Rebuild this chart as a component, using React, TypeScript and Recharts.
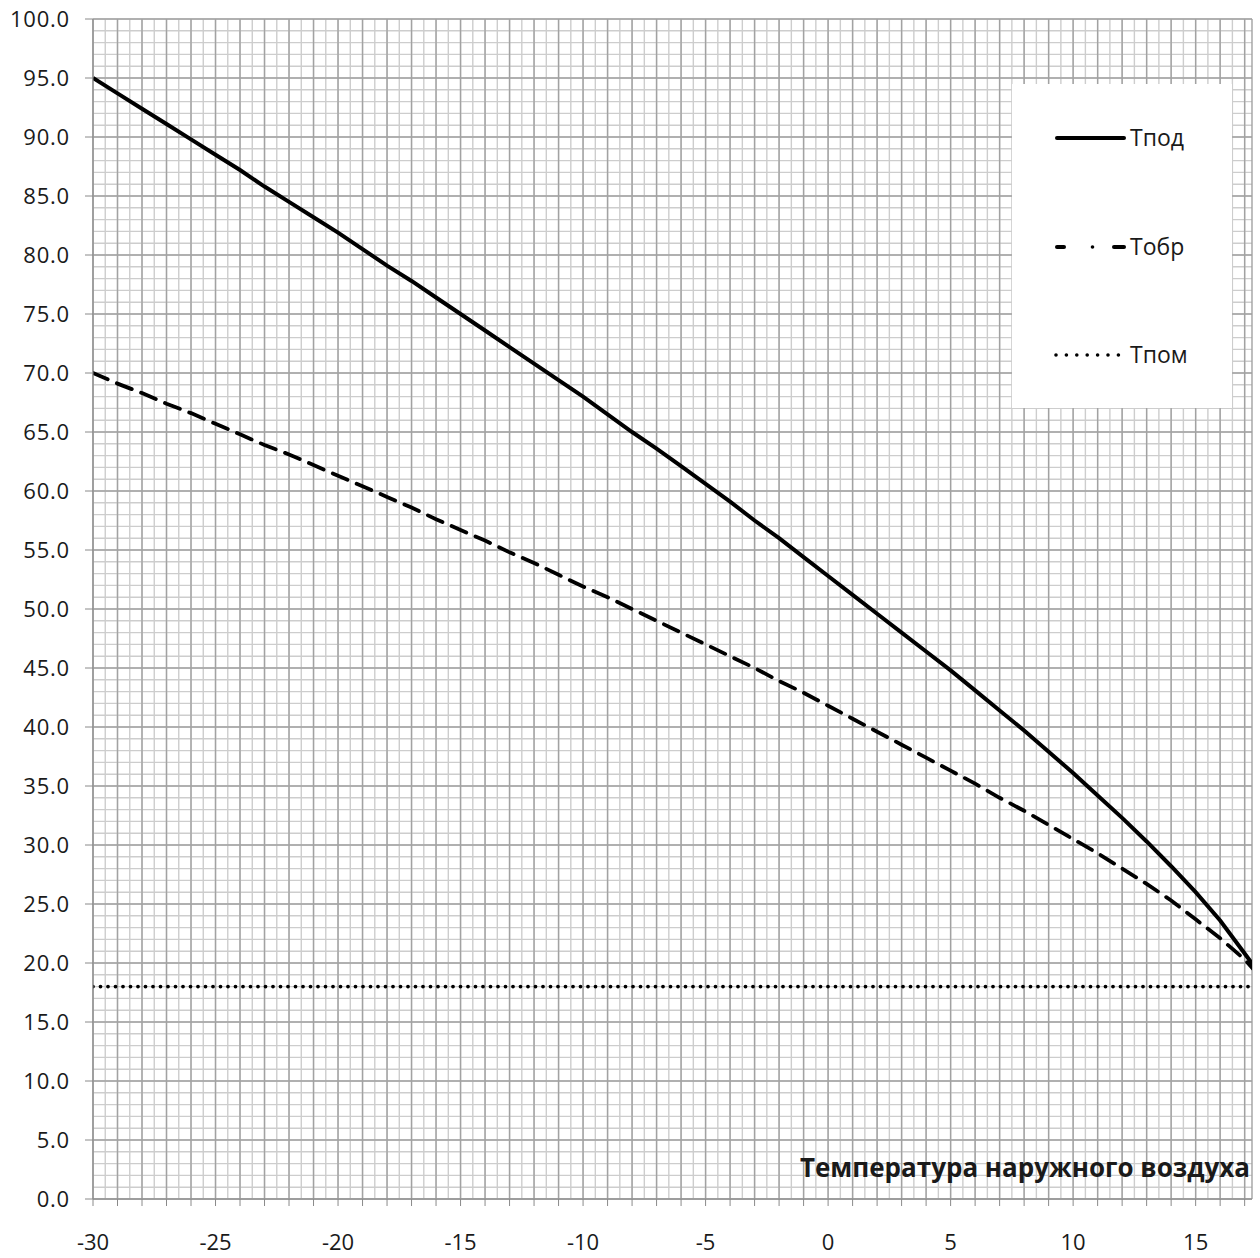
import { CartesianGrid, Line, LineChart, XAxis, YAxis } from 'recharts';

// Температурный график: подача / обратка / помещение по температуре наружного воздуха

const outdoorTemps = [
  -30, -29, -28, -27, -26, -25, -24, -23, -22, -21, -20, -19, -18, -17, -16, -15, -14, -13, -12, -11,
  -10, -9, -8, -7, -6, -5, -4, -3, -2, -1, 0, 1, 2, 3, 4, 5, 6, 7, 8, 9, 10, 11, 12, 13, 14, 15, 16,
  17, 18,
];

const tpod = [
  95.0, 93.7, 92.4, 91.1, 89.8, 88.5, 87.2, 85.8, 84.5, 83.2, 81.9, 80.5, 79.1, 77.8, 76.4, 75.0, 73.6,
  72.2, 70.8, 69.4, 68.0, 66.5, 65.0, 63.6, 62.1, 60.6, 59.1, 57.5, 56.0, 54.4, 52.8, 51.2, 49.6, 48.0,
  46.4, 44.8, 43.1, 41.4, 39.7, 37.9, 36.1, 34.2, 32.3, 30.3, 28.2, 26.0, 23.6, 20.8, 18.0,
];

const tobr = [
  70.0, 69.1, 68.3, 67.4, 66.6, 65.7, 64.8, 63.9, 63.1, 62.2, 61.3, 60.4, 59.5, 58.6, 57.6, 56.7, 55.8,
  54.8, 53.9, 52.9, 51.9, 51.0, 50.0, 49.0, 48.0, 47.0, 46.0, 45.0, 43.9, 42.9, 41.8, 40.7, 39.6, 38.5,
  37.4, 36.3, 35.2, 34.0, 32.9, 31.7, 30.5, 29.3, 28.0, 26.7, 25.3, 23.7, 22.1, 20.3, 18.0,
];

const tpom = outdoorTemps.map(() => 18.0);

const seriesNames = ['Тпод', 'Тобр', 'Тпом'];

const xDomain: [number, number] = [-30, 17.3];
const xMajorTicks = Array.from({ length: 48 }, (_, i) => -30 + i);
const xMinorTicks = Array.from({ length: 95 }, (_, i) => -30 + i * 0.5);
const yMajorTicks = Array.from({ length: 21 }, (_, i) => i * 5);
const yMinorTicks = Array.from({ length: 101 }, (_, i) => i);

const axisTitle = 'Температура наружного воздуха';

const data = outdoorTemps.map((t, i) => ({
  t,
  tpod: tpod[i],
  tobr: tobr[i],
  tpom: tpom[i],
}));

const FONT = '"Open Sans", "DejaVu Sans", sans-serif';
const TEXT = '#1a1a1a';
const AXIS = '#8a8a8a';

function LegendBox() {
  const rows = [54, 163, 271];
  return (
    <div style={{ position: 'absolute', left: 1012, top: 84, width: 220, height: 324, background: '#fff' }}>
      <svg width={220} height={324}>
        {/* Тпод */}
        <line x1={45} x2={112} y1={rows[0]} y2={rows[0]} stroke="#000" strokeWidth={4} strokeLinecap="round" />
        {/* Тобр */}
        <line x1={45} x2={52} y1={rows[1]} y2={rows[1]} stroke="#000" strokeWidth={4} strokeLinecap="round" />
        <circle cx={80.5} cy={rows[1]} r={1.8} fill="#000" />
        <line x1={102} x2={112} y1={rows[1]} y2={rows[1]} stroke="#000" strokeWidth={4} strokeLinecap="round" />
        {/* Тпом */}
        <line
          x1={44}
          x2={107}
          y1={rows[2]}
          y2={rows[2]}
          stroke="#000"
          strokeWidth={3.6}
          strokeLinecap="round"
          strokeDasharray="0 10.4"
        />
        {seriesNames.map((name, i) => (
          <text
            key={name}
            x={118}
            y={rows[i]}
            dy="0.35em"
            fontFamily={FONT}
            fontSize={23}
            fill={TEXT}
          >
            {name}
          </text>
        ))}
      </svg>
    </div>
  );
}

export default function App() {
  return (
    <div style={{ position: 'absolute', left: 0, top: 0, width: 1260, height: 1258, background: '#fff' }}>
      <LineChart
        width={1260}
        height={1258}
        data={data}
        margin={{ top: 19, right: 8, left: 0, bottom: 0 }}
        style={{ fontFamily: FONT }}
      >
        {/* мелкая сетка: 0.5 по X, 1 по Y */}
        <CartesianGrid
          horizontalValues={yMinorTicks}
          verticalValues={xMinorTicks}
          stroke="#cdcdcd"
          strokeWidth={1.4}
        />
        <CartesianGrid stroke="#a2a2a2" strokeWidth={1.4} />
        <XAxis
          dataKey="t"
          type="number"
          domain={xDomain}
          ticks={xMajorTicks}
          allowDataOverflow
          interval={0}
          height={59}
          stroke={AXIS}
          tickSize={7}
          tickMargin={28}
          tick={{ fill: TEXT, fontSize: 22, fontFamily: FONT }}
          tickFormatter={(v: number) => (v % 5 === 0 ? String(v) : '')}
        />
        <YAxis
          type="number"
          domain={[0, 100]}
          ticks={yMajorTicks}
          interval={0}
          width={93}
          stroke={AXIS}
          tickSize={8}
          tickMargin={15}
          tick={{ fill: TEXT, fontSize: 22, fontFamily: FONT, letterSpacing: 0.8 }}
          tickFormatter={(v: number) => v.toFixed(1)}
        />
        <Line
          dataKey="tpom"
          name={seriesNames[2]}
          stroke="#000"
          strokeWidth={3.8}
          strokeLinecap="round"
          strokeDasharray="0 7.5"
          dot={false}
          activeDot={false}
          isAnimationActive={false}
        />
        <Line
          dataKey="tobr"
          name={seriesNames[1]}
          stroke="#000"
          strokeWidth={3.8}
          strokeLinecap="round"
          strokeDasharray="16 10"
          dot={false}
          activeDot={false}
          isAnimationActive={false}
        />
        <Line
          dataKey="tpod"
          name={seriesNames[0]}
          stroke="#000"
          strokeWidth={4}
          dot={false}
          activeDot={false}
          isAnimationActive={false}
        />
      </LineChart>
      <LegendBox />
      <div
        style={{
          position: 'absolute',
          right: 10,
          top: 1151,
          fontFamily: FONT,
          fontWeight: 700,
          fontSize: 26,
          lineHeight: '32px',
          color: TEXT,
          whiteSpace: 'nowrap',
        }}
      >
        {axisTitle}
      </div>
    </div>
  );
}
